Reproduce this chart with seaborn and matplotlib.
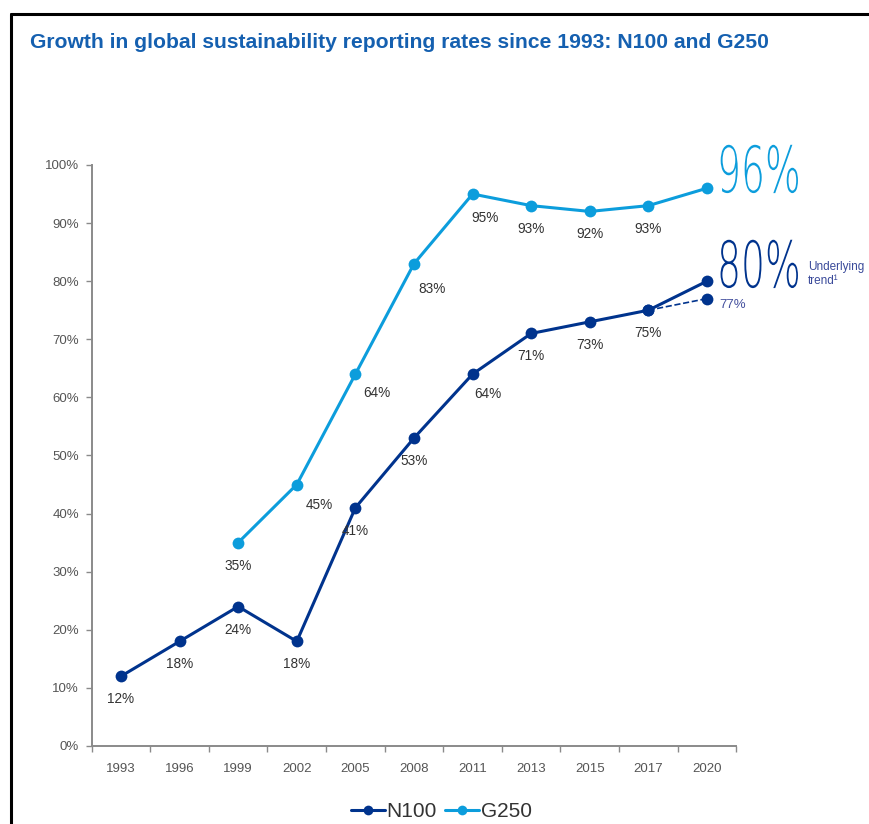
import numpy as np
import pandas as pd
import matplotlib
matplotlib.use("Agg")
import matplotlib.pyplot as plt
import seaborn as sns
from matplotlib.lines import Line2D
from matplotlib.text import Text
from matplotlib.ticker import FixedLocator
from matplotlib import patheffects
from matplotlib.transforms import Affine2D, Bbox, offset_copy

# Reporting rates (%) by survey year
years = ["1993", "1996", "1999", "2002", "2005", "2008", "2011", "2013", "2015", "2017", "2020"]
n100 = [12, 18, 24, 18, 41, 53, 64, 71, 73, 75, 80]
g250 = [np.nan, np.nan, 35, 45, 64, 83, 95, 93, 92, 93, 96]
trend_years = ["2017", "2020"]
trend_values = [75, 77]
y_ticks = [0, 10, 20, 30, 40, 50, 60, 70, 80, 90, 100]

NAVY = "#00338D"
LIGHT = "#0C9DDC"
TITLE_BLUE = "#1560B0"
TEXT = "#333333"
TICK = "#555555"
AXIS = "#8A8A8A"


class HorizontalSqueeze(patheffects.AbstractPathEffect):
    """Draw text glyphs compressed horizontally about their left edge."""

    def __init__(self, factor):
        super().__init__()
        self.factor = factor

    def draw_path(self, renderer, gc, tpath, affine, rgbFace=None):
        renderer.draw_path(gc, tpath, Affine2D().scale(self.factor, 1.0) + affine, rgbFace)


class CondensedText(Text):
    """Left-aligned text rendered in a condensed face; extent reflects the squeeze."""

    def __init__(self, *args, squeeze=0.6, **kwargs):
        super().__init__(*args, **kwargs)
        self.squeeze = squeeze
        self.set_path_effects([HorizontalSqueeze(squeeze)])

    def get_window_extent(self, renderer=None, dpi=None):
        bb = super().get_window_extent(renderer, dpi)
        return Bbox.from_bounds(bb.x0, bb.y0, bb.width * self.squeeze, bb.height)


sns.set_theme(style="white")
plt.rcParams["font.family"] = ["Liberation Sans", "DejaVu Sans"]

fig = plt.figure(figsize=(8.69, 8.24), dpi=100)
ax = fig.add_axes([0.1055, 0.0947, 0.7418, 0.7051])

df = pd.DataFrame({
    "year": years * 2,
    "rate": n100 + g250,
    "series": ["N100"] * len(years) + ["G250"] * len(years),
})
trend = pd.DataFrame({"year": trend_years, "rate": trend_values, "series": ["trend"] * 2})

# dashed underlying-trend segment, drawn beneath the main lines
sns.pointplot(data=trend, x="year", y="rate", order=years, color=NAVY,
              errorbar=None, markers="o", linestyles="--", linewidth=1.2,
              markersize=8.5, markeredgewidth=0, ax=ax, legend=False)
sns.pointplot(data=df, x="year", y="rate", hue="series", order=years,
              hue_order=["N100", "G250"], palette={"N100": NAVY, "G250": LIGHT},
              errorbar=None, markers="o", linewidth=2.2, markersize=8.5,
              markeredgewidth=0, ax=ax, legend=False)

# value labels under each point (offsets in pixels)
n100_offsets = {"2011": (15, -20)}
g250_offsets = {"2002": (23, -20), "2005": (21, -19), "2008": (18, -25), "2011": (12, -24)}
for i, (yr, v) in enumerate(zip(years, n100)):
    if yr == "2020":
        continue
    dx, dy = n100_offsets.get(yr, (0, -23))
    ax.annotate(f"{v}%", xy=(i, v), xytext=(dx, dy), textcoords="offset pixels",
                ha="center", va="center", fontsize=9.8, color=TEXT)
for i, (yr, v) in enumerate(zip(years, g250)):
    if yr == "2020" or np.isnan(v):
        continue
    dx, dy = g250_offsets.get(yr, (0, -23))
    ax.annotate(f"{v:.0f}%", xy=(i, v), xytext=(dx, dy), textcoords="offset pixels",
                ha="center", va="center", fontsize=9.8, color=TEXT)

# headline values for 2020 in a tall, condensed light face
last = len(years) - 1
for value, color, dy in ((g250[-1], LIGHT, -4), (n100[-1], NAVY, -6)):
    big = CondensedText(last, value, f"{value:.0f}%", squeeze=0.59,
                        transform=offset_copy(ax.transData, fig=fig, x=10, y=dy, units="dots"),
                        ha="left", va="baseline", fontsize=46,
                        family=["DejaVu Sans"], fontweight="light", color=color,
                        clip_on=False)
    ax.add_artist(big)

ax.annotate("Underlying\ntrend\u00b9", xy=(last, n100[-1]), xytext=(101, 7),
            textcoords="offset pixels", ha="left", va="center",
            fontsize=8.5, color="#3A4A9A", linespacing=1.2, annotation_clip=False)
ax.annotate(f"{trend_values[-1]}%", xy=(last, trend_values[-1]), xytext=(12, -6),
            textcoords="offset pixels", ha="left", va="center",
            fontsize=9.5, color="#44509E", annotation_clip=False)

# axes styling
ax.set_xlim(-0.5, len(years) - 0.5)
ax.set_ylim(0, 100)
ax.set_xlabel("")
ax.set_ylabel("")
ax.set_yticks(y_ticks)
ax.set_yticklabels([f"{t}%" for t in y_ticks])
ax.set_xticks(range(len(years)))
ax.set_xticklabels(years)
ax.xaxis.set_minor_locator(FixedLocator(np.arange(-0.5, len(years), 1.0)))
ax.tick_params(axis="x", which="major", length=0, pad=12, labelsize=9.5, labelcolor=TICK)
ax.tick_params(axis="x", which="minor", bottom=True, length=4, width=1, color=AXIS, direction="out")
ax.tick_params(axis="y", which="major", left=True, length=4, width=1, color=AXIS,
               pad=5, labelsize=9.5, labelcolor=TICK)
for side in ("top", "right"):
    ax.spines[side].set_visible(False)
for side in ("left", "bottom"):
    ax.spines[side].set_color(AXIS)
    ax.spines[side].set_linewidth(1.4)
ax.grid(False)

# title
fig.text(30 / 869, 1 - 42 / 824,
         "Growth in global sustainability reporting rates since 1993: N100 and G250",
         ha="left", va="center", fontsize=15.2, fontweight="bold", color=TITLE_BLUE)

# legend
handles = [
    Line2D([], [], color=NAVY, marker="o", markersize=7, linewidth=2.2, markeredgewidth=0),
    Line2D([], [], color=LIGHT, marker="o", markersize=7, linewidth=2.2, markeredgewidth=0),
]
fig.legend(handles, ["N100", "G250"], loc="center", bbox_to_anchor=(0.508, 0.0146),
           ncol=2, frameon=False, fontsize=15, handlelength=1.6, handletextpad=0.1,
           columnspacing=0.4, labelcolor="#333333")

# page frame
fig.add_artist(Line2D([11 / 869, 11 / 869], [0, 1 - 14 / 824], transform=fig.transFigure,
                      color="black", linewidth=2.2))
fig.add_artist(Line2D([11 / 869, 1], [1 - 14 / 824, 1 - 14 / 824], transform=fig.transFigure,
                      color="black", linewidth=2.2))

fig.savefig("out.png", dpi=100)
